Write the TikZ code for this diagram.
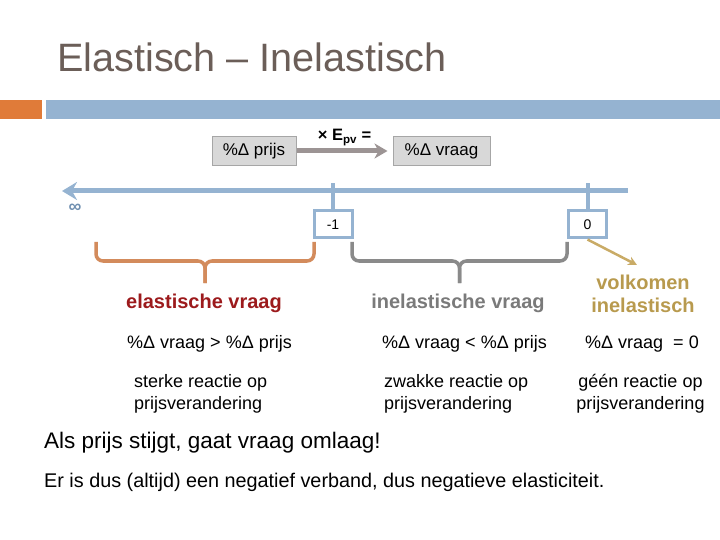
\documentclass[tikz,border=0pt]{standalone}
\usepackage{fontspec}
\setmainfont{Liberation Sans}
\usetikzlibrary{arrows.meta,positioning}
\definecolor{etitle}{HTML}{6B5E58}
\definecolor{eorange}{HTML}{E07B39}
\definecolor{eblue}{HTML}{95B3D1}
\definecolor{edblue}{HTML}{6F8FB0}
\definecolor{egrayf}{HTML}{D8D8D8}
\definecolor{egrayd}{HTML}{A6A6A6}
\definecolor{earrow}{HTML}{9C9494}
\definecolor{ebrace}{HTML}{D38B5C}
\definecolor{egbrace}{HTML}{8A8A8A}
\definecolor{ered}{HTML}{9C1A1C}
\definecolor{einel}{HTML}{7A7A7A}
\definecolor{etan}{HTML}{B89A4E}
\definecolor{etanarr}{HTML}{C9AB66}
\tikzset{
  gbox/.style={draw=egrayd,fill=egrayf,line width=1bp,inner sep=0pt,minimum height=29bp,font=\fontsize{17bp}{20bp}\selectfont},
  vbox/.style={draw=eblue,fill=white,line width=3bp,inner sep=0pt,minimum width=38bp,minimum height=27bp,font=\fontsize{14bp}{16bp}\selectfont},
  txt/.style={inner sep=0pt,align=left,font=\fontsize{18bp}{22bp}\selectfont},
  head/.style={inner sep=0pt,align=center,font=\bfseries\fontsize{20bp}{23bp}\selectfont},
  axisl/.style={-{Stealth[length=15bp,width=18bp,inset=5bp]},line width=5bp,draw=eblue},
  tickl/.style={line width=4bp,draw=eblue},
  brc/.style={line width=3.5bp,rounded corners=7bp},
}
\begin{document}
\begin{tikzpicture}[x=1bp,y=-1bp]
  \useasboundingbox (0,0) rectangle (720,540);
  % titel en balk
  \node[anchor=base west,inner sep=0pt,text=etitle,font=\fontsize{39.6bp}{44bp}\selectfont] (title) at (57,72) {Elastisch – Inelastisch};
  \fill[eorange] (0,100) rectangle (42,119);
  \fill[eblue] (46,100) rectangle (720,119);
  % formule
  \node[gbox,minimum width=84bp] (dp) at (254,151) {\%Δ prijs};
  \node[gbox,minimum width=97bp] (dv) at (441.5,151) {\%Δ vraag};
  \draw[-{Stealth[length=13bp,width=15bp,inset=4bp]},line width=5bp,draw=earrow,shorten >=5bp] (dp.east) -- node[above=3bp,inner sep=0pt,font=\bfseries\fontsize{16.5bp}{18bp}\selectfont]{× E\textsubscript{pv} =} (dv.west);
  % as
  \coordinate (axend) at (628,191);
  \coordinate (axinf) at (62,191);
  \draw[axisl] (axend) -- (axinf);
  \node[text=edblue,inner sep=0pt,font=\bfseries\fontsize{18bp}{18bp}\selectfont] (inf) at (75,208) {∞};
  \node[vbox] (m1) at (333,224.5) {-1};
  \node[vbox] (z0) at (587.5,224.5) {0};
  \draw[tickl] (m1.north) -- ++(0,-26);
  \draw[tickl] (z0.north) -- ++(0,-26);
  % accolades
  \coordinate (bo) at (205,283);
  \draw[brc,draw=ebrace] (96,242) |- (bo |- 0,261) -- (bo);
  \draw[brc,draw=ebrace] (314,242) |- (bo |- 0,261) -- (bo);
  \coordinate (bg) at (459.5,283);
  \draw[brc,draw=egbrace] (352,242) |- (bg |- 0,261) -- (bg);
  \draw[brc,draw=egbrace] (567,242) |- (bg |- 0,261) -- (bg);
  \coordinate (vk) at (637,265);
  \draw[-{Stealth[length=9bp,width=9bp]},line width=2.5bp,draw=etanarr] (z0.south) -- (vk);
  % kolommen
  \node[head,text=ered] (el) at (204,303) {elastische vraag};
  \node[head,text=einel] (inel) at (458,303) {inelastische vraag};
  \node[head,text=etan] (vol) at (643,294) {volkomen\\inelastisch};
  \node[txt,anchor=west] (r1) at (127,344) {\%Δ vraag > \%Δ prijs};
  \node[txt,anchor=west] (r2) at (382,344) {\%Δ vraag < \%Δ prijs};
  \node[txt,anchor=west] (r3) at (585,344) {\%Δ vraag\ \ = 0};
  \node[txt,anchor=west] (s1) at (134,394) {sterke reactie op\\prijsverandering};
  \node[txt,anchor=west] (s2) at (384,394) {zwakke reactie op\\prijsverandering};
  \node[txt,align=center] (s3) at (640.5,394) {géén reactie op\\prijsverandering};
  % conclusie
  \node[txt,anchor=west,font=\fontsize{22.5bp}{26bp}\selectfont] (c1) at (44,443) {Als prijs stijgt, gaat vraag omlaag!};
  \node[txt,anchor=west,font=\fontsize{19.8bp}{23bp}\selectfont] (c2) at (44,482) {Er is dus (altijd) een negatief verband, dus negatieve elasticiteit.};
\end{tikzpicture}
\end{document}
